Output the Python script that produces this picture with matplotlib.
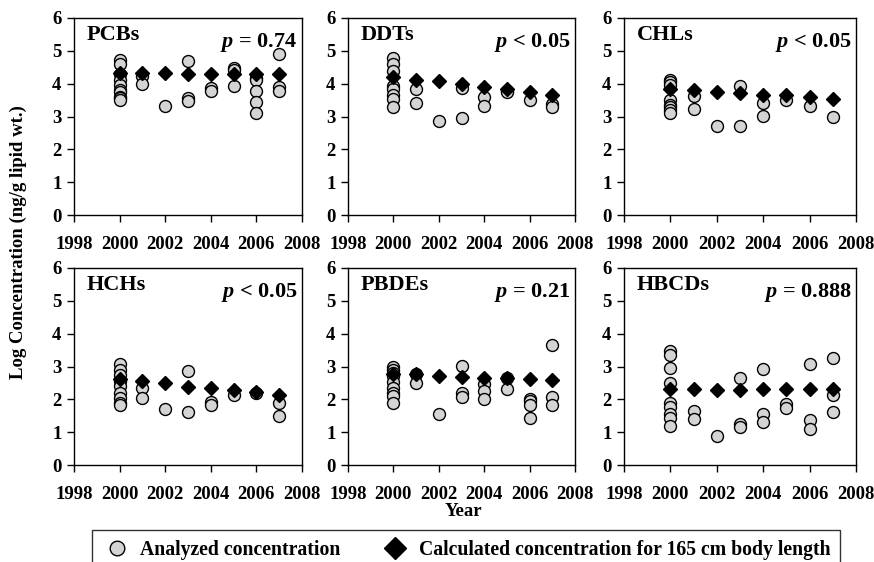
import matplotlib.pyplot as plt
from matplotlib.lines import Line2D

plt.rcParams['font.family'] = ['Liberation Serif', 'DejaVu Serif']
plt.rcParams['font.weight'] = 'bold'
plt.rcParams['mathtext.fontset'] = 'custom'
plt.rcParams['mathtext.it'] = 'Liberation Serif:italic:bold'
plt.rcParams['mathtext.rm'] = 'Liberation Serif:bold'

years = [2000, 2001, 2002, 2003, 2004, 2005, 2006, 2007]
names = ["PCBs", "DDTs", "CHLs", "HCHs", "PBDEs", "HBCDs"]
p_texts = ["$p$ = 0.74", "$p$ < 0.05", "$p$ < 0.05",
           "$p$ < 0.05", "$p$ = 0.21", "$p$ = 0.888"]

# analyzed concentrations, per year
pcbs_obs = {2000: [4.72, 4.6, 4.3, 4.1, 3.95, 3.8, 3.75, 3.6, 3.55, 3.5],
            2001: [4.22, 4.0], 2002: [3.31], 2003: [4.7, 3.56, 3.46],
            2004: [3.87, 3.79], 2005: [4.48, 4.42, 3.94],
            2006: [4.17, 4.12, 3.79, 3.43, 3.12], 2007: [4.91, 3.9, 3.79]}
ddts_obs = {2000: [4.78, 4.61, 4.39, 3.93, 3.83, 3.67, 3.52, 3.29],
            2001: [3.85, 3.42], 2002: [2.86], 2003: [3.88, 2.95],
            2004: [3.58, 3.33], 2005: [3.78, 3.74], 2006: [3.5],
            2007: [3.38, 3.28]}
chls_obs = {2000: [4.12, 4.05, 3.95, 3.5, 3.35, 3.28, 3.2, 3.1],
            2001: [3.61, 3.22], 2002: [2.7], 2003: [3.93, 2.7],
            2004: [3.41, 3.02], 2005: [3.51], 2006: [3.31], 2007: [3.0]}
hchs_obs = {2000: [3.08, 2.9, 2.75, 2.55, 2.4, 2.2, 2.05, 1.9, 1.82],
            2001: [2.34, 2.04], 2002: [1.7], 2003: [2.85, 1.6],
            2004: [1.91, 1.84], 2005: [2.14], 2006: [2.18],
            2007: [1.89, 1.5]}
pbdes_obs = {2000: [2.97, 2.9, 2.8, 2.7, 2.52, 2.35, 2.2, 2.1, 1.88],
             2001: [2.77, 2.49], 2002: [1.54], 2003: [3.03, 2.18, 2.06],
             2004: [2.47, 2.26, 2.0], 2005: [2.65, 2.31],
             2006: [2.0, 1.95, 1.83, 1.44], 2007: [3.67, 2.06, 1.83]}
hbcds_obs = {2000: [3.46, 3.36, 2.96, 2.49, 1.9, 1.77, 1.56, 1.44, 1.2],
             2001: [1.63, 1.39], 2002: [0.88], 2003: [2.65, 1.24, 1.15],
             2004: [2.91, 1.56, 1.32], 2005: [1.85, 1.75],
             2006: [3.08, 1.36, 1.1], 2007: [3.26, 2.14, 1.6]}

# calculated concentration for 165 cm body length
pcbs_calc = [4.32, 4.34, 4.32, 4.3, 4.3, 4.29, 4.3, 4.28]
ddts_calc = [4.2, 4.12, 4.07, 4.0, 3.91, 3.83, 3.75, 3.67]
chls_calc = [3.85, 3.8, 3.74, 3.71, 3.67, 3.64, 3.59, 3.53]
hchs_calc = [2.62, 2.55, 2.49, 2.39, 2.35, 2.27, 2.21, 2.13]
pbdes_calc = [2.77, 2.78, 2.72, 2.67, 2.65, 2.65, 2.62, 2.6]
hbcds_calc = [2.31, 2.31, 2.29, 2.29, 2.31, 2.31, 2.31, 2.31]

observed = [pcbs_obs, ddts_obs, chls_obs, hchs_obs, pbdes_obs, hbcds_obs]
calculated = [pcbs_calc, ddts_calc, chls_calc, hchs_calc, pbdes_calc, hbcds_calc]

W, H = 874, 562
fig = plt.figure(figsize=(W / 100, H / 100), dpi=100)

lefts = [74, 348, 624]
widths = [228, 227, 232]
tops = [18, 268]
ph = 197

circle_color = '#d4d4d4'

for i, name in enumerate(names):
    r, c = divmod(i, 3)
    ax = fig.add_axes([lefts[c] / W, 1 - (tops[r] + ph) / H, widths[c] / W, ph / H])
    obs = observed[i]
    xs = [y for y in obs for _ in obs[y]]
    ys = [v for y in obs for v in obs[y]]
    ax.plot(xs, ys, 'o', ms=8.6, mfc=circle_color, mec='black', mew=1.0, zorder=3)
    ax.plot(years, calculated[i], 'D', ms=7.4, mfc='black', mec='black', zorder=4)
    ax.set_xlim(1998, 2008)
    ax.set_ylim(0, 6)
    ax.set_xticks(range(1998, 2009, 2))
    ax.set_yticks(range(0, 7))
    ax.tick_params(direction='out', length=5, width=1, labelsize=13.5, pad=4)
    ax.tick_params(axis='x', pad=10)
    for s in ax.spines.values():
        s.set_linewidth(1.0)
    ax.text(0.055, 0.915, name, transform=ax.transAxes, fontsize=16,
            fontweight='bold', ha='left', va='center')
    ax.text(0.98, 0.875, p_texts[i], transform=ax.transAxes, fontsize=16,
            fontweight='bold', ha='right', va='center')

fig.text(0.021, 0.57, "Log Concentration (ng/g lipid wt.)", rotation=90,
         fontsize=13.5, fontweight='bold', ha='center', va='center')
fig.text(463 / W, 1 - 512 / H, "Year", fontsize=13.5, fontweight='bold',
         ha='center', va='center')

handles = [Line2D([], [], marker='o', ls='none', ms=10.5, mfc=circle_color, mec='black'),
           Line2D([], [], marker='D', ls='none', ms=11, mfc='black', mec='black')]
labels = ["Analyzed concentration", "Calculated concentration for 165 cm body length"]
leg = fig.legend(handles, labels, loc='upper center', bbox_to_anchor=(466 / W, 1 - 530 / H),
                 ncol=2, fontsize=14.2, frameon=True, fancybox=False,
                 edgecolor='black', columnspacing=2.0, handletextpad=0.45,
                 borderpad=0.5, handlelength=1.5, borderaxespad=0)
leg.get_frame().set_linewidth(1.0)

plt.savefig("out.png", dpi=100)
plt.close()
